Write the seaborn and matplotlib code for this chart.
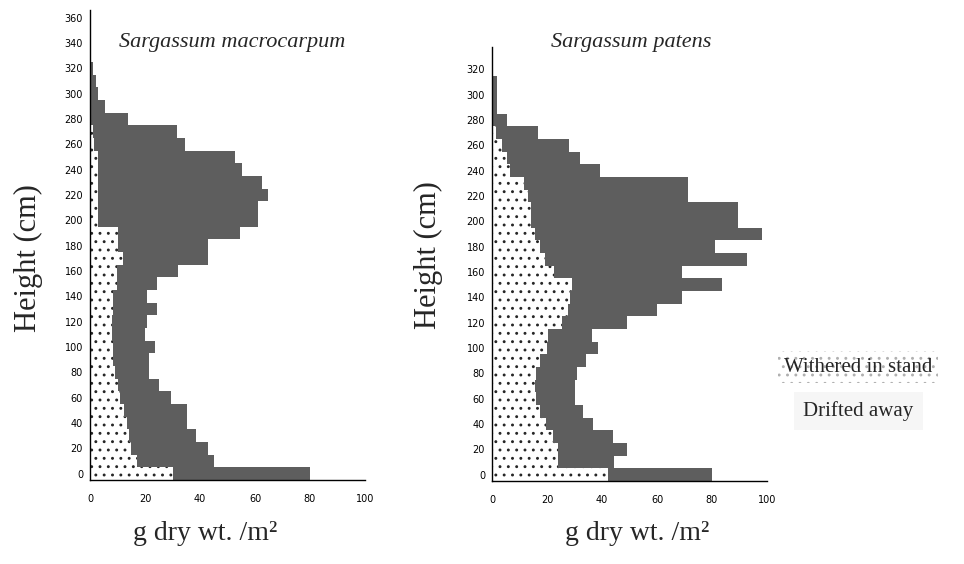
import numpy as np
import pandas as pd
import matplotlib
matplotlib.use("Agg")
import matplotlib.pyplot as plt
import seaborn as sns

# ---------------- data (g dry wt. / m2 per 10-cm height class) ----------------
heights = list(range(0, 330, 10))  # class centres 0 ... 320 cm

macro_withered = [30, 17, 15, 14, 13.5, 12.5, 11, 10, 9, 8.5, 8.5, 8, 8, 8.5, 8.5,
                  9.7, 9.7, 12, 10.3, 10.3, 3, 3, 3, 3, 3, 3, 1.5, 1, 0.5, 0, 0, 0, 0]
macro_drifted = [50, 28, 28, 24.5, 21.7, 22.7, 18.5, 15, 12.5, 13, 15, 12, 12.6, 15.7, 12.1,
                 14.5, 22.3, 31, 32.7, 44.2, 58.2, 58.2, 61.8, 59.7, 52.2, 49.7, 33, 30.5,
                 13.4, 5.6, 3, 2, 1]

patens_withered = [42, 24, 24, 22, 19.5, 17.3, 16, 15.6, 16, 17.5, 20, 20.5, 25.5, 27.5, 28.5,
                   29, 22.5, 19.3, 17.5, 15.6, 14, 14, 13, 11.5, 6.5, 5.3, 3.6, 1.5, 0, 0, 0, 0, 0]
patens_drifted = [38, 20.5, 25, 22, 17.3, 15.7, 14, 14.4, 15, 16.5, 18.5, 15.7, 23.5, 32.5, 40.5,
                  54.5, 46.5, 73.3, 63.5, 82.4, 75.6, 75.6, 58.4, 59.9, 32.8, 26.7, 24.4, 15.3,
                  5.3, 1.7, 1.7, 1.7, 0]

titles = ["Sargassum macrocarpum", "Sargassum patens"]
x_ticks = [0, 20, 40, 60, 80, 100]
legend_labels = ["Withered in stand", "Drifted away"]

# ---------------- style ----------------
sns.set_style("white")
plt.rcParams["font.family"] = ["DejaVu Sans"]
plt.rcParams["hatch.linewidth"] = 0.9

DARK = "#5e5e5e"
W, H = 964, 564
fig = plt.figure(figsize=(W / 100, H / 100), dpi=100)


def px_rect(x0, y_bottom, x1, y_top):
    return [x0 / W, 1 - y_bottom / H, (x1 - x0) / W, (y_bottom - y_top) / H]


def panel(ax, withered, drifted, ytop, ymax_label):
    total = np.array(withered, float) + np.array(drifted, float)
    df = pd.DataFrame({"h": heights, "total": total, "withered": withered})
    sns.barplot(data=df, x="total", y="h", orient="h", native_scale=True, width=1.0,
                color=DARK, saturation=1, linewidth=0, errorbar=None, ax=ax)
    sns.barplot(data=df, x="withered", y="h", orient="h", native_scale=True, width=1.0,
                color="white", saturation=1, linewidth=0, edgecolor="#262626",
                hatch="..", errorbar=None, ax=ax)
    ax.set_xlabel("")
    ax.set_ylabel("")
    ax.set_xlim(0, 100)
    ax.set_ylim(-5, ytop)
    for s in ["top", "right"]:
        ax.spines[s].set_visible(False)
    for s in ["left", "bottom"]:
        ax.spines[s].set_color("black")
        ax.spines[s].set_linewidth(1.0)
    ax.set_xticks(x_ticks)
    ax.set_xticklabels([str(v) for v in x_ticks], fontsize=7)
    ax.tick_params(axis="x", direction="inout", length=4, width=0.8, pad=8, colors="black")
    ax.set_yticks(list(range(0, ymax_label + 1, 20)))
    ax.set_yticklabels([str(v) for v in range(0, ymax_label + 1, 20)], fontsize=7)
    ax.tick_params(axis="y", which="major", length=0, pad=5, colors="black")
    ax.set_yticks(np.arange(-5, ytop, 10), minor=True)
    ax.tick_params(axis="y", which="minor", direction="out", length=3, width=0.8, color="black")
    ax.grid(False)


ax1 = fig.add_axes(px_rect(90, 480, 365, 10))
panel(ax1, macro_withered, macro_drifted, 366, 360)
ax2 = fig.add_axes(px_rect(492, 481, 767, 47))
panel(ax2, patens_withered, patens_drifted, 337.5, 320)

serif = ["Liberation Serif", "DejaVu Serif"]


def ftext(x, y, s, **kw):
    return fig.text(x / W, 1 - y / H, s, ha="center", va="center", family=serif, **kw)


ftext(232, 42, titles[0], fontsize=16, style="italic")
ftext(631, 42, titles[1], fontsize=16, style="italic")
ftext(28, 258, "Height (cm)", fontsize=22, rotation=90)
ftext(428, 255, "Height (cm)", fontsize=22, rotation=90)
ftext(205, 534, "g dry wt. /m²", fontsize=20)
ftext(637, 534, "g dry wt. /m²", fontsize=20)

# legend (text labels with pattern backgrounds)
ftext(858, 367, legend_labels[0], fontsize=15,
      bbox=dict(boxstyle="square,pad=0.3", facecolor="white", edgecolor="#b0b0b0",
                hatch="..", linewidth=0))
ftext(858, 411, legend_labels[1], fontsize=15,
      bbox=dict(boxstyle="square,pad=0.45", facecolor="#f6f6f6", edgecolor="#f6f6f6",
                linewidth=0))

fig.savefig("out.png", dpi=100, facecolor="white")
